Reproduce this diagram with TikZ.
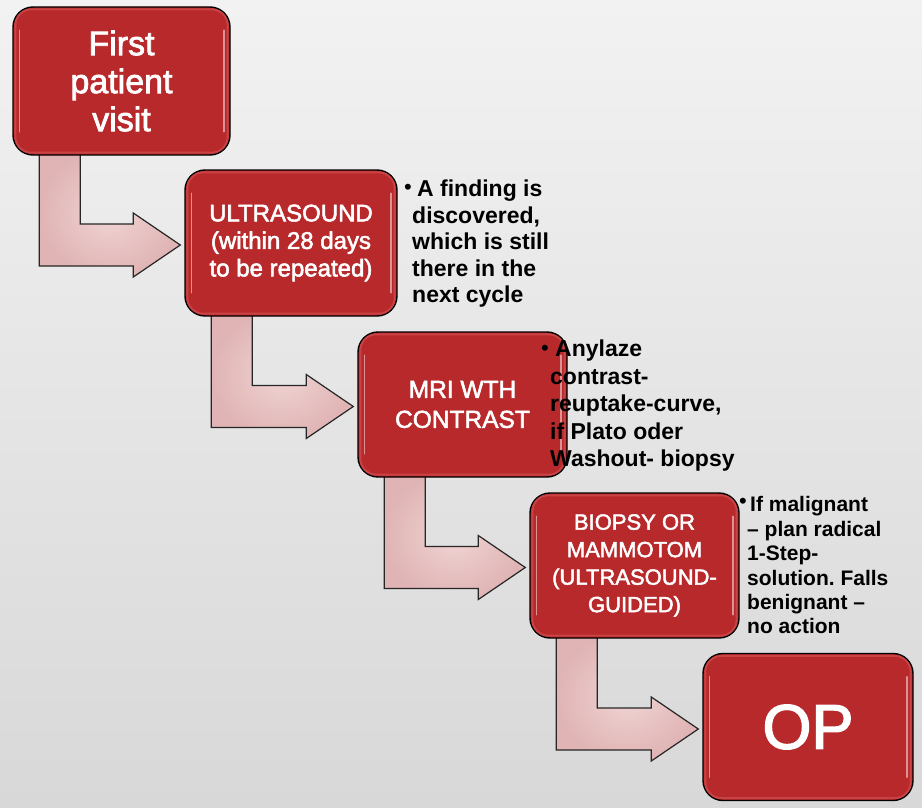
\documentclass[tikz,border=0pt]{standalone}
\usepackage{fontspec}
\setmainfont{Liberation Sans}
\newfontfamily\boxfont[FakeBold=2.2]{Liberation Sans}
\frenchspacing
\usetikzlibrary{calc}
\pgfdeclarelayer{bg}
\pgfdeclarelayer{arrowlayer}
\pgfsetlayers{bg,arrowlayer,main}
\definecolor{bgtop}{HTML}{F2F2F2}
\definecolor{bgbot}{HTML}{D8D8D8}
\definecolor{boxred}{HTML}{B8292C}
\definecolor{rimred}{HTML}{D85A5A}
\definecolor{arrpink}{HTML}{E0B4B4}
\definecolor{arrlight}{HTML}{F0D4D4}
\newcommand\boxdeco[1]{%
  \draw[rimred, line width=2pt, rounded corners=16pt, opacity=0.55]
    ([shift={(3pt,-3pt)}]#1.north west) rectangle ([shift={(-3pt,3pt)}]#1.south east);
  \draw[hilite] ([shift={(7pt,-24pt)}]#1.north west) -- ([shift={(7pt,24pt)}]#1.south west);
  \draw[hilite] ([shift={(-7pt,-24pt)}]#1.north east) -- ([shift={(-7pt,24pt)}]#1.south east);
}
\newcommand\blockarrow[2]{%
  \coordinate (t) at ($(#2.west)+(-4,2)$);
  \coordinate (l) at ($(#1.south west)+(27,-6)$);
  \coordinate (r) at ($(#1.south west)+(68,-6)$);
  \coordinate (sb) at ($(t)+(0,21)$);
  \coordinate (st) at ($(t)+(0,-21)$);
  \coordinate (hsb) at ($(t)+(-47,21)$);
  \coordinate (hst) at ($(t)+(-47,-21)$);
  \coordinate (hb) at ($(t)+(-47,32)$);
  \coordinate (ht) at ($(t)+(-47,-32)$);
  \draw[blockarr] (l) -- (l |- sb) -- (hsb) -- (hb) -- (t) -- (ht) -- (hst) -- (r |- st) -- (r) -- cycle;
}
\begin{document}
\begin{tikzpicture}[x=1pt,y=-1pt,
  redbox/.style={draw=black, line width=1.4pt, fill=boxred, rounded corners=20pt,
    text=white, align=center, inner sep=0pt},
  hilite/.style={white, opacity=0.5, line width=1.6pt, line cap=round},
  blockarr/.style={draw=black!85, line width=1.2pt, inner color=arrlight, outer color=arrpink, line join=miter},
  note/.style={anchor=north west, align=left, inner sep=0pt, text=black},
  bul/.style={inner sep=0pt, text=black, font=\fontsize{22}{22}\selectfont}]
\useasboundingbox (0,0) rectangle (922,808);
\begin{pgfonlayer}{bg}
\fill[top color=bgtop, bottom color=bgbot] (0,0) rectangle (922,808);
\end{pgfonlayer}

% boxes
\node[redbox, minimum width=217pt, minimum height=148pt, font=\boxfont\fontsize{34}{38}\selectfont] (b1) at (121.5,81) {First\\patient\\visit};
\node[redbox, minimum width=212pt, minimum height=146pt, font=\boxfont\fontsize{24}{27.5}\selectfont] (b2) at (291,243) {ULTRASOUND\\(within 28 days\\to be repeated)};
\node[redbox, minimum width=209pt, minimum height=145pt, font=\boxfont\fontsize{24.5}{30}\selectfont] (b3) at (462.5,404.5) {MRI WTH\\CONTRAST};
\node[redbox, minimum width=209pt, minimum height=145pt, font=\boxfont\fontsize{22}{27.5}\selectfont] (b4) at (634.5,565.5) {BIOPSY OR\\MAMMOTOM\\(ULTRASOUND-\\GUIDED)};
\node[redbox, minimum width=210pt, minimum height=147pt, font=\boxfont\fontsize{63}{63}\selectfont] (b5) at (808,727) {OP};
\foreach \n in {b1,b2,b3,b4,b5}{\boxdeco{\n}}

% arrows, beneath the boxes
\begin{pgfonlayer}{arrowlayer}
\blockarrow{b1}{b2}
\blockarrow{b2}{b3}
\blockarrow{b3}{b4}
\blockarrow{b4}{b5}
\end{pgfonlayer}

% notes
\node[bul] (d1) at (408,189) {\textbullet};
\node[note, font=\fontsize{23}{26.5}\selectfont\bfseries] (n1) at (412,180)
  {\hspace*{5pt}A finding is\\discovered,\\which is still\\there in the\\next cycle};
\node[bul] (d2) at (545,350) {\textbullet};
\node[note, font=\fontsize{23}{27.5}\selectfont\bfseries] (n2) at (550,340)
  {\hspace*{5pt}Anylaze\\contrast-\\reuptake-curve,\\if Plato oder\\Washout- biopsy};
\node[bul] (d3) at (743,503) {\textbullet};
\node[note, font=\fontsize{21}{24.4}\selectfont\bfseries] (n3) at (747,496.5)
  {\hspace*{3pt}If malignant\\– plan radical\\1-Step-\\solution. Falls\\benignant –\\no action};
\end{tikzpicture}
\end{document}
